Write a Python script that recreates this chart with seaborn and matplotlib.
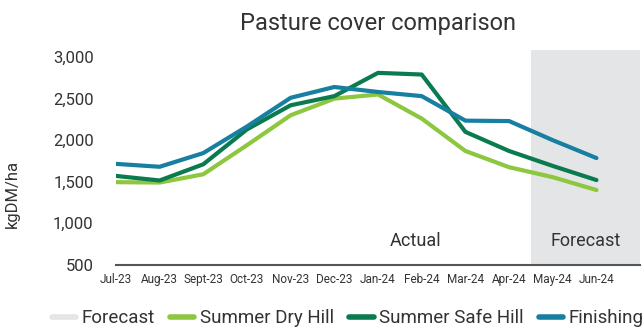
import matplotlib
matplotlib.use("Agg")
import matplotlib.pyplot as plt
from matplotlib.lines import Line2D
import seaborn as sns
import pandas as pd

months = ["Jul-23", "Aug-23", "Sept-23", "Oct-23", "Nov-23", "Dec-23",
          "Jan-24", "Feb-24", "Mar-24", "Apr-24", "May-24", "Jun-24"]
summer_dry_hill = [1495, 1490, 1590, 1940, 2300, 2500, 2550, 2260, 1870, 1675, 1555, 1400]
summer_safe_hill = [1570, 1515, 1710, 2130, 2420, 2530, 2810, 2790, 2100, 1870, 1690, 1520]
finishing = [1715, 1680, 1845, 2165, 2510, 2640, 2580, 2530, 2235, 2230, 2000, 1785]
series_names = ["Summer Dry Hill", "Summer Safe Hill", "Finishing"]
colors = {"Summer Dry Hill": "#8DC63F", "Summer Safe Hill": "#0A7A4F", "Finishing": "#177FA1"}
forecast_color = "#E4E5E7"
forecast_start, forecast_end = 9.5, 12.0

df = pd.DataFrame({
    "idx": list(range(len(months))) * 3,
    "value": summer_dry_hill + summer_safe_hill + finishing,
    "series": sum([[n] * len(months) for n in series_names], []),
})

sns.set_theme(style="white")
plt.rcParams["font.family"] = ["Roboto", "DejaVu Sans"]
text_color = "#333333"

fig = plt.figure(figsize=(6.44, 3.29), dpi=100)
ax = fig.add_axes([0.180, 0.195, 0.814, 0.653])

ax.axvspan(forecast_start, forecast_end, color=forecast_color, lw=0, zorder=0)

sns.lineplot(data=df, x="idx", y="value", hue="series", hue_order=series_names,
             palette=colors, linewidth=3.0, legend=False, ax=ax,
             solid_capstyle="round", solid_joinstyle="round", zorder=3)

ax.set_xlim(0, 12)
ax.set_ylim(500, 3085)
ax.set_xticks(range(len(months)))
ax.set_xticklabels(months, fontsize=8.5, color=text_color)
ax.set_yticks([500, 1000, 1500, 2000, 2500, 3000])
ax.set_yticklabels([f"{v:,}" for v in [500, 1000, 1500, 2000, 2500, 3000]],
                   fontsize=12, color=text_color)
ax.tick_params(axis="y", length=0, pad=16)
ax.tick_params(axis="x", length=0, pad=6)
ax.set_xlabel("")
ax.set_ylabel("kgDM/ha", fontsize=12, color=text_color)
ax.yaxis.set_label_coords(-0.183, 0.33)

for s in ["top", "right", "left"]:
    ax.spines[s].set_visible(False)
ax.spines["bottom"].set_color("#555555")
ax.spines["bottom"].set_linewidth(1.5)

ax.text(6.85, 790, "Actual", fontsize=13, color=text_color, ha="center", va="center")
ax.text((forecast_start + forecast_end) / 2, 790, "Forecast", fontsize=13,
        color=text_color, ha="center", va="center")

fig.suptitle("Pasture cover comparison", fontsize=17, color=text_color, x=0.587, y=0.965)

handles = [Line2D([0], [0], color=forecast_color, lw=4, solid_capstyle="round")]
handles += [Line2D([0], [0], color=colors[n], lw=4, solid_capstyle="round") for n in series_names]
labels = ["Forecast"] + series_names
fig.legend(handles, labels, loc="center", bbox_to_anchor=(0.54, 0.033), ncol=4,
           frameon=False, fontsize=13.5, handlelength=1.3, handletextpad=0.3,
           columnspacing=0.8, labelcolor=text_color)

fig.savefig("out.png", dpi=100)
